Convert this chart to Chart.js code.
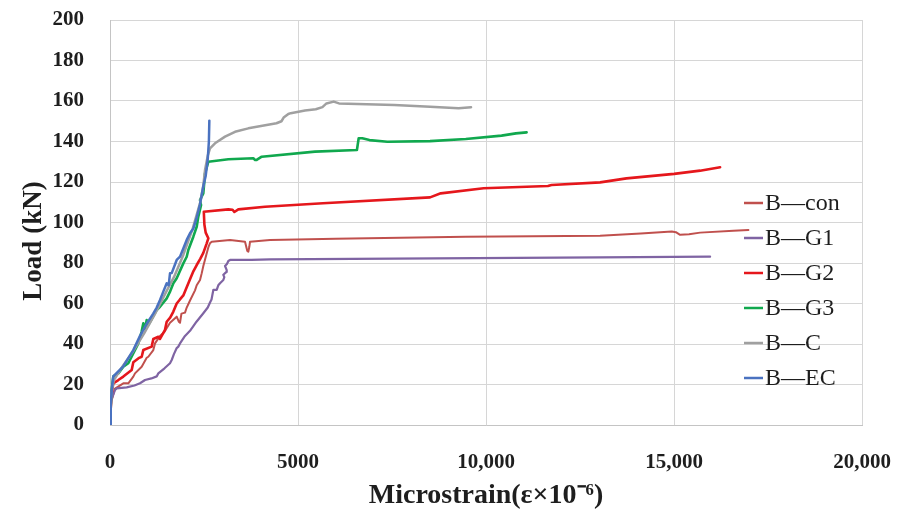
<!DOCTYPE html>
<html>
<head>
<meta charset="utf-8">
<script src="https://cdn.jsdelivr.net/npm/chart.js@4.4.1/dist/chart.umd.min.js"></script>
<style>
  html, body { margin: 0; padding: 0; background: #ffffff; }
  #wrap { width: 905px; height: 519px; }
</style>
</head>
<body>
<div id="wrap"><canvas id="c" width="905" height="519"></canvas></div>
<script>
// Load–microstrain curves, [microstrain, load (kN)]
const B_CON = [[0,0],[40,12],[133,18],[354,20.6],[487,20.6],[620,23.9],[665,25.5],[843,28.8],[976,33.2],[1019,33.7],[1152,37],[1197,40.3],[1330,44],[1450,46],[1596,50.5],[1685,52],[1774,53.5],[1830,51],[1862,50.5],[1900,55],[1995,55.5],[2040,58],[2128,61.5],[2261,66.5],[2306,69],[2394,71.6],[2440,75],[2482,78.5],[2560,84],[2620,88],[2660,89.8],[2705,90.5],[3192,91.4],[3591,90.5],[3650,86],[3680,85.6],[3705,88],[3724,90.5],[4256,91.4],[6000,92],[9461,93],[13034,93.4],[14116,94.6],[14941,95.6],[15050,95.2],[15162,93.9],[15400,94.2],[15694,95],[16580,95.9],[16979,96.3]];
const B_G1 = [[0,0],[30,12],[133,17.3],[178,18.1],[444,18.6],[650,19.5],[798,20.6],[931,22.2],[1100,23],[1242,24],[1285,25.5],[1450,28],[1596,30.5],[1641,32.1],[1700,35],[1774,38],[1817,38.7],[1862,40.3],[1995,44],[2128,46.5],[2300,51],[2482,55.2],[2600,58],[2660,60.5],[2700,62],[2748,66.7],[2838,66.7],[2880,69],[2926,70],[3014,71.6],[3040,73],[3014,74.2],[3090,75.5],[3104,76.5],[3059,78.5],[3110,79.5],[3147,81],[3192,81.5],[3762,81.5],[4256,81.8],[13034,82.8],[15960,83.1]];
const B_G2 = [[0,0],[30,14],[88,20.6],[221,22.2],[354,23.9],[577,27.2],[620,31],[760,33],[843,33.7],[886,37],[1109,38.7],[1152,42.5],[1285,43.6],[1330,42.5],[1463,47],[1508,51],[1600,53],[1685,56],[1774,60],[1860,62],[1950,64],[2040,68],[2128,72],[2220,76],[2306,79],[2400,82],[2482,85],[2572,89.7],[2615,92.2],[2545,95],[2510,99],[2495,105.3],[3147,106.5],[3260,106.3],[3307,105.2],[3413,106.5],[4123,107.8],[5663,109.5],[8512,112.4],[8797,114.4],[9937,116.9],[11648,118],[11742,118.5],[13034,119.8],[13736,121.8],[15002,124],[15694,125.6],[16226,127.3]];
const B_G3 = [[0,0],[30,15],[88,24],[221,25.5],[354,28.8],[487,30.5],[710,38.7],[753,40.3],[840,46],[886,50.2],[931,47.5],[976,51.8],[1019,49.4],[1100,52],[1242,56.8],[1330,58.4],[1508,62.5],[1600,66],[1685,70],[1774,72.5],[1950,79.8],[2040,83.1],[2083,86.4],[2216,93],[2306,97.9],[2349,102.9],[2421,108.6],[2394,111.1],[2482,114.4],[2527,124.3],[2570,127],[2615,130],[3147,131.2],[3812,131.7],[3860,130.9],[3901,130.9],[4035,132.5],[5453,135],[6567,135.8],[6614,141.6],[6710,141.6],[6900,140.7],[7376,139.9],[8512,140.2],[9463,141.2],[10414,142.9],[10794,144],[11080,144.5]];
const B_C = [[0,0],[40,16],[100,22],[300,28],[600,36],[900,45],[1200,55],[1500,66],[1700,73],[1950,84],[2200,97],[2400,110],[2480,118],[2527,125.9],[2600,133],[2660,136.6],[2793,139.1],[3059,142.4],[3325,144.8],[3679,146.5],[4427,149],[4560,150],[4618,151.8],[4743,153.6],[4807,154],[5187,155.3],[5472,155.9],[5650,157],[5757,158.8],[5948,159.7],[6091,158.8],[7562,158],[8512,157.2],[9272,156.4],[9603,156.9]];
const B_EC = [[0,0],[20,10],[45,17],[88,24],[354,29],[620,37],[798,44],[976,50],[1150,55],[1242,58],[1330,61.7],[1420,66],[1508,70],[1560,69],[1596,74.9],[1641,75],[1774,81.5],[1862,83.1],[2040,91.4],[2128,94.7],[2216,97],[2300,102],[2394,109],[2482,118],[2545,123],[2598,131],[2630,140],[2642,150.3]];

const SERIES_NAMES = ['B\u2014con', 'B\u2014G1', 'B\u2014G2', 'B\u2014G3', 'B\u2014C', 'B\u2014EC'];
const SERIES_DATA = [B_CON, B_G1, B_G2, B_G3, B_C, B_EC];
const X_TICK_LABELS = ['0', '5000', '10,000', '15,000', '20,000'];
const Y_TITLE = 'Load (kN)';
const X_TITLE = 'Microstrain(\u03b5\u00d710\u207b\u2076)';

const COLORS = ['#C0504D', '#7F64A3', '#E5171C', '#10A84E', '#A0A0A0', '#4A72C0'];
const WIDTHS = [2, 2.2, 2.6, 2.6, 2.5, 2.5];
const SERIF = '"Liberation Serif", "Times New Roman", serif';
const INK = '#1e1e1e';
const GRID = '#d6d6d6';

// Legend drawn over the plot area, right side
const innerLegend = {
  id: 'innerLegend',
  afterDraw(chart) {
    const ctx = chart.ctx;
    ctx.save();
    ctx.font = '24px ' + SERIF;
    ctx.textBaseline = 'middle';
    ctx.textAlign = 'left';
    chart.data.datasets.forEach((ds, i) => {
      const y = 203 + i * 35;
      ctx.strokeStyle = ds.borderColor;
      ctx.lineWidth = 2.5;
      ctx.beginPath();
      ctx.moveTo(744, y);
      ctx.lineTo(763, y);
      ctx.stroke();
      ctx.fillStyle = INK;
      ctx.fillText(ds.label, 765, y + 1);
    });
    ctx.restore();
  }
};

// Vertical axis title
const yTitle = {
  id: 'yTitle',
  afterDraw(chart) {
    const ctx = chart.ctx;
    ctx.save();
    ctx.translate(34, 241);
    ctx.rotate(-Math.PI / 2);
    ctx.font = 'bold 27px ' + SERIF;
    ctx.fillStyle = INK;
    ctx.textAlign = 'center';
    ctx.textBaseline = 'middle';
    ctx.fillText(Y_TITLE, 0, 0);
    ctx.restore();
  }
};

const datasets = SERIES_DATA.map((d, i) => ({
  label: SERIES_NAMES[i],
  data: d,
  borderColor: COLORS[i],
  backgroundColor: COLORS[i],
  borderWidth: WIDTHS[i],
  pointRadius: 0,
  tension: 0,
  fill: false,
  borderJoinStyle: 'round',
  borderCapStyle: 'round',
  order: SERIES_DATA.length - i
}));

new Chart(document.getElementById('c'), {
  type: 'line',
  data: { datasets },
  plugins: [innerLegend, yTitle],
  options: {
    responsive: false,
    animation: false,
    layout: { padding: { top: 20, right: 43, left: 0, bottom: 0 } },
    plugins: {
      legend: { display: false },
      tooltip: { enabled: false }
    },
    scales: {
      x: {
        type: 'linear',
        min: 0,
        max: 20000,
        afterFit(scale) {
          scale.height = 94;
          scale.paddingLeft = 0;
          scale.paddingRight = 0;
        },
        grid: { color: GRID, lineWidth: 1, drawTicks: false },
        border: { color: '#c4c4c4' },
        ticks: {
          stepSize: 5000,
          padding: 25,
          maxRotation: 0,
          color: INK,
          font: { family: SERIF, size: 21, weight: 'bold' },
          callback: (v) => X_TICK_LABELS[Math.round(v / 5000)]
        },
        title: {
          display: true,
          text: X_TITLE,
          color: INK,
          font: { family: SERIF, size: 28, weight: 'bold' },
          padding: { top: 0, bottom: 6 }
        }
      },
      y: {
        min: 0,
        max: 200,
        afterFit(scale) {
          scale.width = 110;
          scale.paddingTop = 0;
          scale.paddingBottom = 0;
        },
        grid: { color: GRID, lineWidth: 1, drawTicks: false },
        border: { color: '#c4c4c4' },
        ticks: {
          stepSize: 20,
          padding: 26,
          color: INK,
          font: { family: SERIF, size: 21, weight: 'bold' }
        }
      }
    }
  }
});
</script>
</body>
</html>
